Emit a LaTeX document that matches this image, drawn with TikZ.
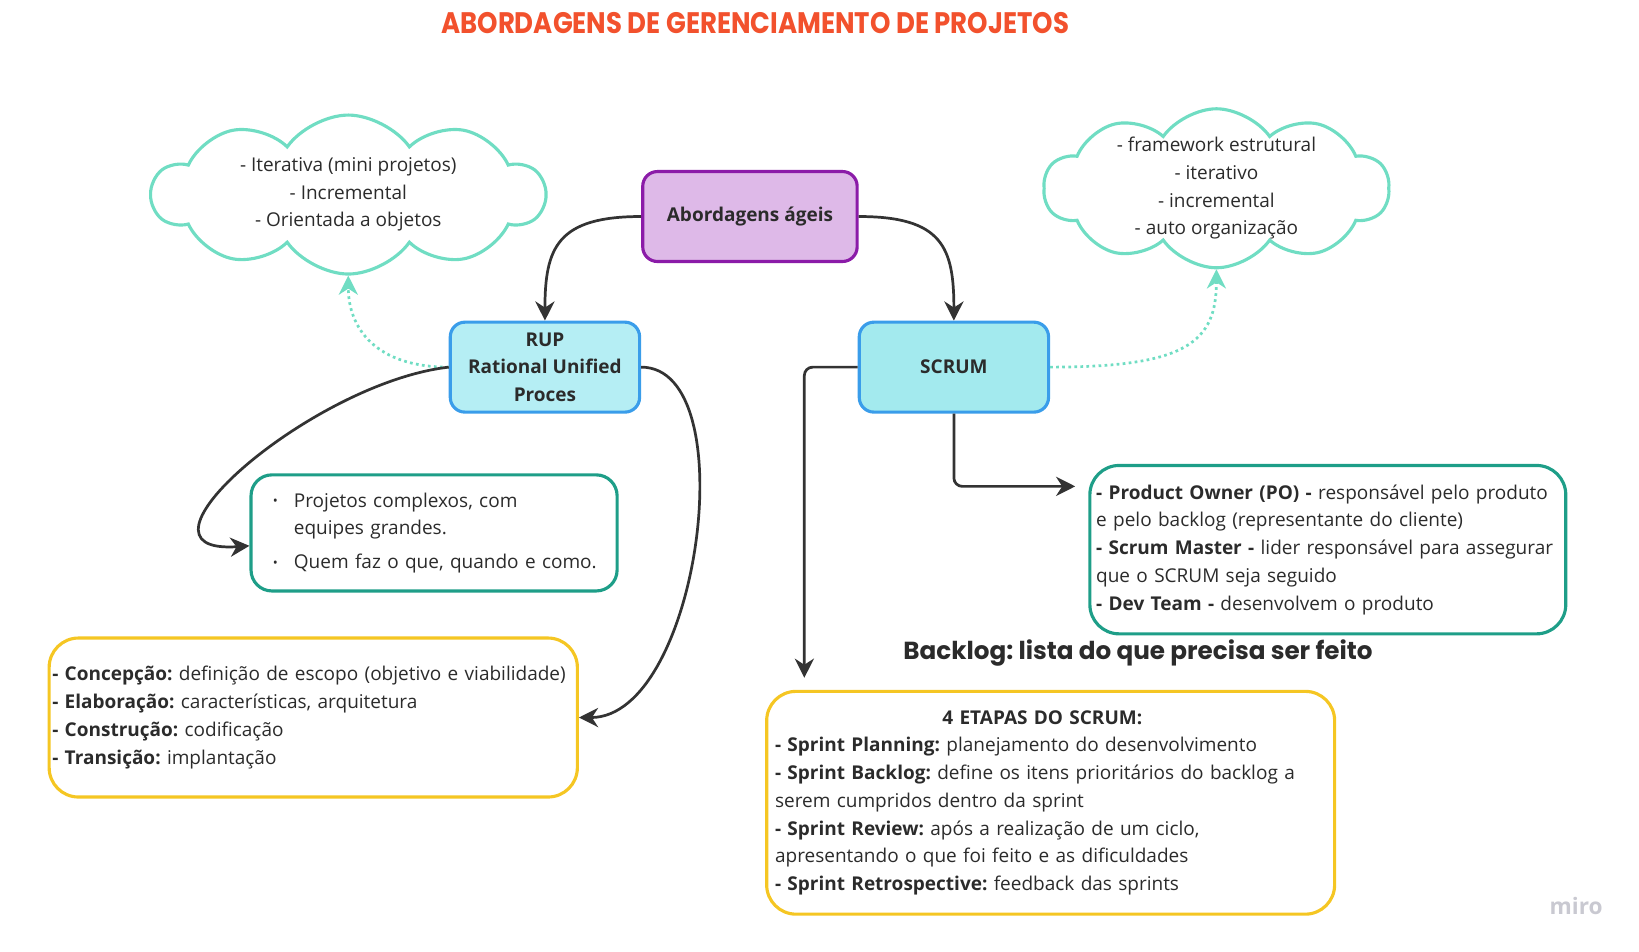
\documentclass[tikz,border=0pt]{standalone}
\usepackage{fontspec}
\setmainfont{Open Sans}
\newfontfamily\headfont[FakeStretch=0.876]{Poppins}
\newfontfamily\notefont{Poppins}
\usetikzlibrary{shapes.symbols,arrows.meta}
\frenchspacing

\newlength{\du}
\setlength{\du}{0.6276pt}

\definecolor{titlered}{rgb}{0.949, 0.318, 0.176}
\definecolor{cloudmint}{rgb}{0.439, 0.867, 0.765}
\definecolor{agileborder}{rgb}{0.545, 0.106, 0.659}
\definecolor{agilefill}{rgb}{0.871, 0.725, 0.910}
\definecolor{methodborder}{rgb}{0.227, 0.616, 0.918}
\definecolor{rupfill}{rgb}{0.710, 0.933, 0.957}
\definecolor{scrumfill}{rgb}{0.639, 0.918, 0.933}
\definecolor{noteteal}{rgb}{0.118, 0.620, 0.533}
\definecolor{noteyellow}{rgb}{0.961, 0.776, 0.137}
\definecolor{linkgray}{rgb}{0.200, 0.200, 0.200}
\definecolor{inkgray}{rgb}{0.170, 0.170, 0.170}
\definecolor{miroshade}{rgb}{0.790, 0.790, 0.820}

\newcommand{\bodysize}{\fontsize{11.4}{16.63}\selectfont}
\newcommand{\bul}{\makebox[23\du][l]{\hspace*{3\du}\raisebox{0.1ex}{\footnotesize\textbullet}}}

\tikzset{
  methodbox/.style={draw=methodborder, line width=3\du, rounded corners=14\du,
    minimum width=181\du, minimum height=86\du, align=center, inner sep=0pt,
    text=inkgray, font=\bodysize\bfseries},
  notebox/.style={line width=3\du, rounded corners=28\du, align=left,
    inner ysep=0pt, text=inkgray, font=\bodysize},
  idea/.style={cloud, cloud puffs=10, cloud puff arc=110, cloud ignores aspect,
    draw=cloudmint, line width=3\du, align=center, inner sep=0pt,
    text=inkgray, font=\bodysize},
  link/.style={draw=linkgray, line width=2.6\du,
    -{Stealth[length=11.5pt, width=11.5pt, inset=3.7pt]}},
  hint/.style={draw=cloudmint, line width=2.6\du, dotted,
    -{Stealth[length=11.5pt, width=11.5pt, inset=3.7pt]}}
}

\begin{document}
\begin{tikzpicture}[x=\du, y=\du]
\pgftransformyscale{-1.000000}
\useasboundingbox (0,0) rectangle (1567,910);

\node[text=titlered, font=\headfont\fontsize{17.8}{21}\selectfont\bfseries] (title) at (722,22){ABORDAGENS DE GERENCIAMENTO DE PROJETOS};

\node[idea, minimum width=375\du, minimum height=152\du] (cloudrup) at (333,186){- Iterativa (mini projetos)\\- Incremental\\- Orientada a objetos};
\node[idea, inner ysep=-14\du, minimum width=330\du, minimum height=152\du] (cloudscrum) at (1163,180){- framework estrutural\\- iterativo\\- incremental\\- auto organização};

\node[methodbox, draw=agileborder, fill=agilefill, minimum width=205\du] (agile) at (717,207){Abordagens ágeis};
\node[methodbox, fill=rupfill] (rup) at (521,351){RUP\\Rational Unified\\Proces};
\node[methodbox, fill=scrumfill] (scrum) at (912,351){SCRUM};

\node[notebox, draw=noteteal, rounded corners=20\du, inner xsep=18\du, text width=314\du, minimum height=111\du] (proj) at (415,509.5){\bul Projetos complexos, com\\\hspace*{23\du}equipes grandes.\\[6\du]\bul Quem faz o que, quando e como.};

\node[notebox, draw=noteyellow, inner xsep=3\du, text width=499\du, minimum height=152\du] (phases) at (299.5,686){\textbf{- Concepção:} definição de escopo (objetivo e viabilidade)\\\textbf{- Elaboração:} características, arquitetura\\\textbf{- Construção:} codificação\\\textbf{- Transição:} implantação};

\node[notebox, draw=noteteal, inner xsep=6\du, text width=443\du, minimum height=161\du] (roles) at (1269.5,525.5){\textbf{- Product Owner (PO) -} responsável pelo produto\\e pelo backlog (representante do cliente)\\\textbf{- Scrum Master -} lider responsável para assegurar\\que o SCRUM seja seguido\\\textbf{- Dev Team -} desenvolvem o produto};

\node[text=inkgray, font=\notefont\fontsize{14.8}{18}\selectfont\bfseries] (backlog) at (1088,624){Backlog: lista do que precisa ser feito};

\node[notebox, draw=noteyellow, inner xsep=8\du, text width=527\du, minimum height=213\du] (stages) at (1004.5,767.5){\hspace*{160\du}\textbf{4 ETAPAS DO SCRUM:}\\\textbf{- Sprint Planning:} planejamento do desenvolvimento\\\textbf{- Sprint Backlog:} define os itens prioritários do backlog a\\serem cumpridos dentro da sprint\\\textbf{- Sprint Review:} após a realização de um ciclo,\\apresentando o que foi feito e as dificuldades\\\textbf{- Sprint Retrospective:} feedback das sprints};

\node[text=miroshade, font=\fontsize{13.6}{16}\selectfont\bfseries] (miro) at (1507,866){miro};

\coordinate (stagesin) at (769,648);
\coordinate (rolesin) at (1028,465);

\draw[link] (agile.west) .. controls +(-80,0) and +(0,-70) .. (rup.north);
\draw[link] (agile.east) .. controls +(80,0) and +(0,-70) .. (scrum.north);
\draw[hint] (rup.west) .. controls +(-70,0) and +(0,50) .. (cloudrup.south);
\draw[hint] (scrum.east) .. controls +(130,0) and +(0,70) .. (cloudscrum.south);
\draw[link] (rup.west) .. controls +(-131,15) and +(-130,9) .. (proj.184);
\draw[link] (rup.east) .. controls +(100,0) and +(115,0) .. (phases.east);
\draw[link, rounded corners=8\du] (scrum.west) -| (stagesin);
\draw[link, rounded corners=8\du] (scrum.south) |- (rolesin);
\end{tikzpicture}
\end{document}
